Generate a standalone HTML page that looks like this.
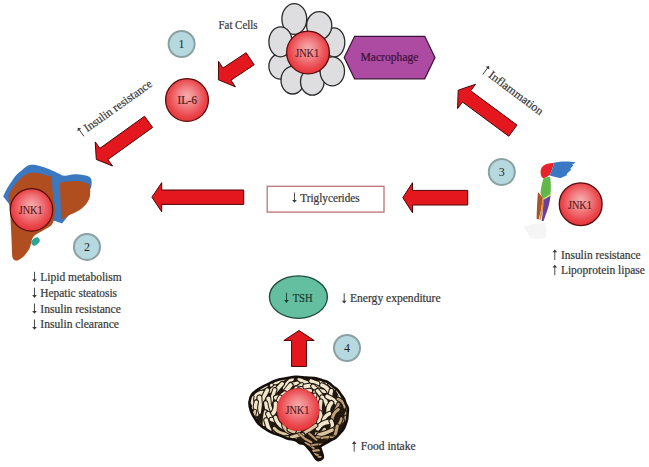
<!DOCTYPE html>
<html><head><meta charset="utf-8"><style>
html,body{margin:0;padding:0;background:#fff;width:649px;height:467px;overflow:hidden}
svg{position:absolute;left:0;top:0;font-family:"Liberation Serif",serif}
</style></head><body>
<svg width="649" height="467" viewBox="0 0 649 467">
<defs>
<radialGradient id="rg" cx="50%" cy="46%" r="54%" fx="50%" fy="40%">
<stop offset="0" stop-color="#f5aeb0"/><stop offset="0.4" stop-color="#f18084"/><stop offset="0.8" stop-color="#ea474c"/><stop offset="1" stop-color="#e4343a"/>
</radialGradient>
</defs>
<ellipse cx="294.3" cy="19" rx="12.4" ry="15.3" transform="rotate(0 294.3 19)" fill="#dedee0" stroke="#2a2a2a" stroke-width="1.3"/>
<ellipse cx="334.3" cy="42.3" rx="10.5" ry="14.5" transform="rotate(0 334.3 42.3)" fill="#dedee0" stroke="#2a2a2a" stroke-width="1.3"/>
<ellipse cx="319.2" cy="25.6" rx="12.6" ry="14" transform="rotate(0 319.2 25.6)" fill="#dedee0" stroke="#2a2a2a" stroke-width="1.3"/>
<ellipse cx="280.5" cy="66.3" rx="11.6" ry="12.8" transform="rotate(0 280.5 66.3)" fill="#dedee0" stroke="#2a2a2a" stroke-width="1.3"/>
<ellipse cx="292.6" cy="80.2" rx="11.6" ry="13.8" transform="rotate(0 292.6 80.2)" fill="#dedee0" stroke="#2a2a2a" stroke-width="1.3"/>
<ellipse cx="312.3" cy="81.8" rx="11.8" ry="13.4" transform="rotate(0 312.3 81.8)" fill="#dedee0" stroke="#2a2a2a" stroke-width="1.3"/>
<ellipse cx="332.3" cy="71.3" rx="12.2" ry="14.5" transform="rotate(0 332.3 71.3)" fill="#dedee0" stroke="#2a2a2a" stroke-width="1.3"/>
<ellipse cx="280.5" cy="41.8" rx="11.6" ry="15" transform="rotate(0 280.5 41.8)" fill="#dedee0" stroke="#2a2a2a" stroke-width="1.3"/>
<circle cx="308" cy="52.5" r="21.4" fill="url(#rg)" stroke="#5a0c0c" stroke-width="1.3"/><text x="295.2" y="56.9" font-size="12.5" fill="#561616" stroke="#561616" stroke-width="0.15" textLength="24" lengthAdjust="spacingAndGlyphs">JNK1</text>
<polygon points="344.2,57.5 354.6,36.3 424.7,36.3 435,57.5 424.7,78.8 354.6,78.8" fill="#ad4aa2" stroke="#3a1436" stroke-width="1.2"/>
<text x="360.5" y="61" font-size="12" fill="#3d1139" stroke="#3d1139" stroke-width="0.22" text-anchor="start" textLength="58" lengthAdjust="spacingAndGlyphs" >Macrophage</text>
<text x="218.5" y="29" font-size="12" fill="#383838" stroke="#383838" stroke-width="0.22" text-anchor="start" textLength="39" lengthAdjust="spacingAndGlyphs" >Fat Cells</text>
<circle cx="181.6" cy="44" r="13" fill="#b5d9df" stroke="#8aa0a3" stroke-width="2"/><text x="181.6" y="48.2" font-size="12" fill="#1f2626" text-anchor="middle">1</text>
<circle cx="187" cy="100" r="21.4" fill="url(#rg)" stroke="#5a0c0c" stroke-width="1.3"/>
<text x="177.6" y="103.7" font-size="11.8" fill="#4a1818" stroke="#4a1818" stroke-width="0.22" text-anchor="start" textLength="19.3" lengthAdjust="spacingAndGlyphs" >IL-6</text>
<polygon points="246.14,52.71 222.98,68.07 218.56,61.40 218.40,79.80 235.41,86.82 230.99,80.15 254.16,64.79" fill="#e5171e" stroke="#4a0606" stroke-width="1.0" stroke-linejoin="miter"/>
<polygon points="144.52,116.25 99.83,148.37 95.19,141.91 96.30,159.40 112.52,166.03 107.88,159.58 152.58,127.45" fill="#e5171e" stroke="#4a0606" stroke-width="1.0" stroke-linejoin="miter"/>
<polygon points="243.70,190.00 161.70,190.00 161.70,182.65 151.90,197.20 161.70,211.75 161.70,204.40 243.70,204.40" fill="#e5171e" stroke="#4a0606" stroke-width="1.0" stroke-linejoin="miter"/>
<polygon points="467.70,190.40 412.50,190.40 412.50,182.70 402.80,197.70 412.50,212.70 412.50,205.00 467.70,205.00" fill="#e5171e" stroke="#4a0606" stroke-width="1.0" stroke-linejoin="miter"/>
<polygon points="517.03,125.06 470.69,90.80 475.54,84.24 458.20,90.20 457.58,108.52 462.43,101.97 508.77,136.24" fill="#e5171e" stroke="#4a0606" stroke-width="1.0" stroke-linejoin="miter"/>
<polygon points="306.45,366.50 306.45,340.50 314.20,340.50 299.00,330.50 283.80,340.50 291.55,340.50 291.55,366.50" fill="#e5171e" stroke="#4a0606" stroke-width="1.0" stroke-linejoin="miter"/>
<g transform="translate(80.4,137.2) rotate(-35.4)"><path d="M3.4,-7.000000000000001 L3.4,1.3" stroke="#383838" stroke-width="0.9"/><path d="M1.1,-6.500000000000001 L3.4,-9.3 L5.699999999999999,-6.500000000000001 Z" fill="#383838"/><text x="8.5" y="0" font-size="11.8" fill="#383838" stroke="#383838" stroke-width="0.22" text-anchor="start" textLength="80.5" lengthAdjust="spacingAndGlyphs" >Insulin resistance</text></g>
<g transform="translate(481,71.5) rotate(36.8)"><path d="M3.2,-7.000000000000001 L3.2,1.3" stroke="#383838" stroke-width="0.9"/><path d="M0.9000000000000004,-6.500000000000001 L3.2,-9.3 L5.5,-6.500000000000001 Z" fill="#383838"/><text x="8.5" y="0" font-size="11.8" fill="#383838" stroke="#383838" stroke-width="0.22" text-anchor="start" textLength="65" lengthAdjust="spacingAndGlyphs" >Inflammation</text></g>
<rect x="267.2" y="186.3" width="116.8" height="25.8" fill="#fff" stroke="#bd7474" stroke-width="1.3"/>
<path d="M294.5,192.6 L294.5,200.5" stroke="#383838" stroke-width="0.9"/><path d="M292.2,200.0 L294.5,202.8 L296.8,200.0 Z" fill="#383838"/><text x="300.3" y="201.5" font-size="11.6" fill="#383838" stroke="#383838" stroke-width="0.22" text-anchor="start" textLength="59.4" lengthAdjust="spacingAndGlyphs" >Triglycerides</text>
<path d="M3.2,196.4 C6,190 9,185 12,181 C15,176 18,172.5 21.4,170.7 C25,167 28,165 31,164.8 C34,164.5 36,165 38,165.5 C42,166.5 46,168 50,169.6 C53,171 55,172 57,172.7 C60,174 62,175.5 64.5,175.7 C68,175.8 71,174.4 75,174.2 C79,174 83,174.5 87,175.7 C89.5,176.5 91.4,178 91.6,181 C91.8,184 91.5,186 91,188 L62,223.5 L10,205 Z" fill="#3b78c0"/>
<path d="M8.6,196.4 C10,191 13,187 16,183.6 C19,179.5 23,176 26.8,174 C29,173 31.5,172.8 34.3,172.8 C38,173 42,174 45,175 C48,175.8 50,176.2 51.7,176.5 C52,181 52.2,185 52.5,190 C53,195 54,200 54.7,205 C55,210 54.8,215 54,220 C53,222.5 52.5,224 51.4,225.3 C48,228 44,230 41,231.7 C38,233 35,234.5 33.4,236.8 C31.5,239.5 31.2,242 30.8,244.6 C30,248 29,250 27,252.3 C25,255 23,257.5 20.6,258.7 C18.5,260 17,261 15.4,260.6 C13.5,260 12.5,258.5 12.2,256 C11.8,251 11.8,246 11.6,240.7 C11.4,236 11.2,232 11,228 C10.7,223 10.6,219 10.3,215 C10,208 8.7,202 8.6,196.4 Z" fill="#b04e20"/>
<path d="M60,182.5 C65,181.5 70,181 75,181 C80,181 84.5,182 88.4,184 C89.5,185 90,186 90,187 C90.3,190 90.4,193 90,196 C89.3,199.5 87.5,202.5 85.4,205 C83,207.5 80.5,209.5 78,211 C75.5,212.5 73,213.5 70.4,214.6 C67.5,216 65,217.5 63,219 L61.5,220.5 C61,214 60.6,207 60.5,200 C60.3,194 60,188 60,182.5 Z" fill="#b04e20"/>
<ellipse cx="35.5" cy="241.5" rx="4.6" ry="3.4" transform="rotate(-40 35.5 241.5)" fill="#2aa597"/>
<circle cx="31.5" cy="209.9" r="21.2" fill="url(#rg)" stroke="#5a0c0c" stroke-width="1.3"/><text x="18.7" y="214.3" font-size="12.5" fill="#561616" stroke="#561616" stroke-width="0.15" textLength="24" lengthAdjust="spacingAndGlyphs">JNK1</text>
<circle cx="87" cy="246.9" r="13" fill="#b5d9df" stroke="#8aa0a3" stroke-width="2"/><text x="87" y="251.1" font-size="12" fill="#1f2626" text-anchor="middle">2</text>
<path d="M34.5,271.79999999999995 L34.5,279.7" stroke="#383838" stroke-width="0.9"/><path d="M32.2,279.2 L34.5,282.0 L36.8,279.2 Z" fill="#383838"/><text x="40.3" y="280.7" font-size="11.6" fill="#383838" stroke="#383838" stroke-width="0.22" text-anchor="start" textLength="81.4" lengthAdjust="spacingAndGlyphs" >Lipid metabolism</text>
<path d="M34.5,287.69999999999993 L34.5,295.59999999999997" stroke="#383838" stroke-width="0.9"/><path d="M32.2,295.09999999999997 L34.5,297.9 L36.8,295.09999999999997 Z" fill="#383838"/><text x="40.3" y="296.59999999999997" font-size="11.6" fill="#383838" stroke="#383838" stroke-width="0.22" text-anchor="start" textLength="76.7" lengthAdjust="spacingAndGlyphs" >Hepatic steatosis</text>
<path d="M34.5,303.59999999999997 L34.5,311.5" stroke="#383838" stroke-width="0.9"/><path d="M32.2,311.0 L34.5,313.8 L36.8,311.0 Z" fill="#383838"/><text x="40.3" y="312.5" font-size="11.6" fill="#383838" stroke="#383838" stroke-width="0.22" text-anchor="start" textLength="80.5" lengthAdjust="spacingAndGlyphs" >Insulin resistance</text>
<path d="M34.5,319.49999999999994 L34.5,327.4" stroke="#383838" stroke-width="0.9"/><path d="M32.2,326.9 L34.5,329.7 L36.8,326.9 Z" fill="#383838"/><text x="40.3" y="328.4" font-size="11.6" fill="#383838" stroke="#383838" stroke-width="0.22" text-anchor="start" textLength="78.7" lengthAdjust="spacingAndGlyphs" >Insulin clearance</text>
<path d="M540.6,171.4 C541,167 544,164.5 547.3,163.7 L554,162.7 C553,166 552,172 549.3,175.2 C547,177 545,178.1 543.5,178.1 C541,177.5 540.6,174 540.6,171.4 Z" fill="#e8222a"/>
<path d="M554,162.7 C559,161.5 566,161.2 570.5,161.7 L575.8,162.2 L572.2,164.8 L573.4,165.6 L570.3,168.6 L571.3,169.6 L566.4,174.3 L567.4,174.9 L560.8,178.1 C558,177.5 553,176.5 549.3,175.2 C552,172 553,166 554,162.7 Z" fill="#3a78c4"/>
<path d="M543.5,178.1 C546,177.5 548,177 550.2,176.7 C551,183 551,190 550.5,194.5 L543.3,199 C542,197 540.4,194 540.6,192 C541,188 542,183 543.5,178.1 Z" fill="#62b64a"/>
<path d="M524,227 C528,224 536,223 545,223.5 C547,227 547,233 546,237.5 C540,239 533,239 530,238 C529,234 526,231 524,227 Z" fill="#f5f5f5"/>
<path d="M538,192 C539.5,194 541.5,196 542.9,198 L540.6,212 L538.6,219.5 L536.6,219 C536.8,210 537.2,200 538,192 Z" fill="#a9532a"/>
<path d="M542.9,198 L544.2,199.2 L542.2,214 L540.5,220 L539.2,219.6 L540.8,212 Z" fill="#e58a2c"/>
<path d="M543.8,199.1 L550.6,195.2 C549.8,203 547.8,210 545.3,216 L543.6,221 L541.6,221 L542.6,214 Z" fill="#6b3f9e"/>
<path d="M543.3,199.3 L550.9,194.6" stroke="#d8e27a" stroke-width="1.3"/>
<circle cx="580.7" cy="204.2" r="21.4" fill="url(#rg)" stroke="#5a0c0c" stroke-width="1.3"/><text x="567.9000000000001" y="208.6" font-size="12.5" fill="#561616" stroke="#561616" stroke-width="0.15" textLength="24" lengthAdjust="spacingAndGlyphs">JNK1</text>
<circle cx="501.8" cy="172" r="13" fill="#b5d9df" stroke="#8aa0a3" stroke-width="2"/><text x="501.8" y="176.2" font-size="12" fill="#1f2626" text-anchor="middle">3</text>
<path d="M554.8,251.7 L554.8,260.0" stroke="#383838" stroke-width="0.9"/><path d="M552.5,252.2 L554.8,249.39999999999998 L557.0999999999999,252.2 Z" fill="#383838"/><text x="560.9" y="258.7" font-size="12" fill="#383838" stroke="#383838" stroke-width="0.22" text-anchor="start" textLength="79.8" lengthAdjust="spacingAndGlyphs" >Insulin resistance</text>
<path d="M554.8,267.09999999999997 L554.8,275.4" stroke="#383838" stroke-width="0.9"/><path d="M552.5,267.59999999999997 L554.8,264.79999999999995 L557.0999999999999,267.59999999999997 Z" fill="#383838"/><text x="560.9" y="274.09999999999997" font-size="12" fill="#383838" stroke="#383838" stroke-width="0.22" text-anchor="start" textLength="84" lengthAdjust="spacingAndGlyphs" >Lipoprotein lipase</text>
<ellipse cx="298.4" cy="297.1" rx="29" ry="21.2" fill="#63bfa0" stroke="#1f4d3d" stroke-width="1.3"/>
<path d="M286.5,292.7 L286.5,300.6" stroke="#173a2f" stroke-width="0.9"/><path d="M284.2,300.1 L286.5,302.90000000000003 L288.8,300.1 Z" fill="#173a2f"/><text x="292.7" y="301.6" font-size="11.8" fill="#173a2f" stroke="#173a2f" stroke-width="0.22" text-anchor="start" textLength="19.9" lengthAdjust="spacingAndGlyphs" >TSH</text>
<path d="M344.2,293.29999999999995 L344.2,301.2" stroke="#383838" stroke-width="0.9"/><path d="M341.9,300.7 L344.2,303.5 L346.5,300.7 Z" fill="#383838"/><text x="350" y="302.2" font-size="11.6" fill="#383838" stroke="#383838" stroke-width="0.22" text-anchor="start" textLength="90.6" lengthAdjust="spacingAndGlyphs" >Energy expenditure</text>
<circle cx="347" cy="348" r="13" fill="#b5d9df" stroke="#8aa0a3" stroke-width="2"/><text x="347" y="352.2" font-size="12" fill="#1f2626" text-anchor="middle">4</text>
<clipPath id="bc"><path d="M249.5,402.0 C249.3,404.8 249.8,407.7 251.0,411.0 C252.2,414.3 255.4,419.3 257.0,421.7 C258.6,424.1 259.3,424.4 260.9,425.7 C262.4,426.9 264.4,428.2 266.3,429.4 C268.2,430.6 270.0,431.8 272.3,432.8 C274.6,433.9 277.6,434.6 280.1,435.5 C282.6,436.4 284.7,437.7 287.2,438.5 C289.8,439.3 293.4,439.4 295.5,440.2 C297.6,441.0 298.2,442.5 299.6,443.1 C301.0,443.7 302.3,442.9 304.0,444.0 C305.7,445.1 307.9,447.7 309.5,449.5 C311.1,451.3 312.2,453.2 313.5,455.0 C314.8,456.8 315.9,459.6 317.5,460.0 C319.1,460.4 322.2,459.2 322.8,457.5 C323.4,455.8 321.4,451.8 321.0,450.0 C320.6,448.2 319.1,448.0 320.5,446.5 C321.9,445.0 326.9,442.7 329.4,441.2 C331.9,439.7 333.8,439.0 335.6,437.6 C337.4,436.2 338.7,434.4 340.0,433.0 C341.3,431.6 342.4,430.5 343.3,429.2 C344.2,427.8 344.7,426.7 345.3,425.0 C345.9,423.3 346.7,421.2 347.1,419.2 C347.4,417.3 347.5,415.3 347.6,413.5 C347.7,411.7 348.1,409.9 347.8,408.2 C347.4,406.5 346.3,405.1 345.6,403.5 C344.9,401.9 344.6,400.0 343.7,398.4 C342.9,396.8 341.6,395.4 340.5,394.0 C339.4,392.6 338.6,391.0 337.3,389.7 C336.1,388.5 334.5,387.7 333.0,386.5 C331.5,385.3 330.1,383.3 328.2,382.3 C326.4,381.2 324.3,380.9 322.0,380.2 C319.7,379.5 316.9,378.4 314.2,378.0 C311.6,377.6 309.0,377.8 306.0,377.6 C303.0,377.4 299.2,376.7 295.9,376.8 C292.7,376.9 289.3,377.8 286.3,378.3 C283.3,378.8 280.7,378.9 278.1,379.7 C275.5,380.4 274.1,381.1 270.9,382.6 C267.7,384.1 262.1,386.8 259.0,388.8 C255.8,390.8 253.6,392.3 252.0,394.5 C250.4,396.7 249.7,399.2 249.5,402.0 Z"/></clipPath>
<path d="M249.5,402.0 C249.3,404.8 249.8,407.7 251.0,411.0 C252.2,414.3 255.4,419.3 257.0,421.7 C258.6,424.1 259.3,424.4 260.9,425.7 C262.4,426.9 264.4,428.2 266.3,429.4 C268.2,430.6 270.0,431.8 272.3,432.8 C274.6,433.9 277.6,434.6 280.1,435.5 C282.6,436.4 284.7,437.7 287.2,438.5 C289.8,439.3 293.4,439.4 295.5,440.2 C297.6,441.0 298.2,442.5 299.6,443.1 C301.0,443.7 302.3,442.9 304.0,444.0 C305.7,445.1 307.9,447.7 309.5,449.5 C311.1,451.3 312.2,453.2 313.5,455.0 C314.8,456.8 315.9,459.6 317.5,460.0 C319.1,460.4 322.2,459.2 322.8,457.5 C323.4,455.8 321.4,451.8 321.0,450.0 C320.6,448.2 319.1,448.0 320.5,446.5 C321.9,445.0 326.9,442.7 329.4,441.2 C331.9,439.7 333.8,439.0 335.6,437.6 C337.4,436.2 338.7,434.4 340.0,433.0 C341.3,431.6 342.4,430.5 343.3,429.2 C344.2,427.8 344.7,426.7 345.3,425.0 C345.9,423.3 346.7,421.2 347.1,419.2 C347.4,417.3 347.5,415.3 347.6,413.5 C347.7,411.7 348.1,409.9 347.8,408.2 C347.4,406.5 346.3,405.1 345.6,403.5 C344.9,401.9 344.6,400.0 343.7,398.4 C342.9,396.8 341.6,395.4 340.5,394.0 C339.4,392.6 338.6,391.0 337.3,389.7 C336.1,388.5 334.5,387.7 333.0,386.5 C331.5,385.3 330.1,383.3 328.2,382.3 C326.4,381.2 324.3,380.9 322.0,380.2 C319.7,379.5 316.9,378.4 314.2,378.0 C311.6,377.6 309.0,377.8 306.0,377.6 C303.0,377.4 299.2,376.7 295.9,376.8 C292.7,376.9 289.3,377.8 286.3,378.3 C283.3,378.8 280.7,378.9 278.1,379.7 C275.5,380.4 274.1,381.1 270.9,382.6 C267.7,384.1 262.1,386.8 259.0,388.8 C255.8,390.8 253.6,392.3 252.0,394.5 C250.4,396.7 249.7,399.2 249.5,402.0 Z" fill="#22180f"/>
<g clip-path="url(#bc)">
<path d="M236.1,372.1 Q243.5,370.7 249.4,365.9" stroke="#22180f" stroke-width="6.2" fill="none" stroke-linecap="round"/>
<path d="M236.1,372.1 Q243.5,370.7 249.4,365.9" stroke="#f0e6cb" stroke-width="4.1" fill="none" stroke-linecap="round"/>
<path d="M240.9,369.2 Q247.8,371.0 253.5,366.6" stroke="#22180f" stroke-width="5.4" fill="none" stroke-linecap="round"/>
<path d="M240.9,369.2 Q247.8,371.0 253.5,366.6" stroke="#f0e6cb" stroke-width="3.3" fill="none" stroke-linecap="round"/>
<path d="M252.5,370.3 Q255.7,363.7 263.1,363.7" stroke="#22180f" stroke-width="5.5" fill="none" stroke-linecap="round"/>
<path d="M252.5,370.3 Q255.7,363.7 263.1,363.7" stroke="#f0e6cb" stroke-width="3.4" fill="none" stroke-linecap="round"/>
<path d="M259.8,370.8 Q265.2,372.0 269.5,368.5" stroke="#22180f" stroke-width="5.4" fill="none" stroke-linecap="round"/>
<path d="M259.8,370.8 Q265.2,372.0 269.5,368.5" stroke="#f0e6cb" stroke-width="3.3" fill="none" stroke-linecap="round"/>
<path d="M270.7,372.4 Q272.8,365.2 278.7,360.6" stroke="#22180f" stroke-width="5.5" fill="none" stroke-linecap="round"/>
<path d="M270.7,372.4 Q272.8,365.2 278.7,360.6" stroke="#f0e6cb" stroke-width="3.4" fill="none" stroke-linecap="round"/>
<path d="M278.4,373.0 Q285.0,369.8 291.4,366.0" stroke="#22180f" stroke-width="6.0" fill="none" stroke-linecap="round"/>
<path d="M278.4,373.0 Q285.0,369.8 291.4,366.0" stroke="#f0e6cb" stroke-width="3.9" fill="none" stroke-linecap="round"/>
<path d="M280.8,369.4 Q288.1,372.9 295.6,370.1" stroke="#22180f" stroke-width="5.6" fill="none" stroke-linecap="round"/>
<path d="M280.8,369.4 Q288.1,372.9 295.6,370.1" stroke="#f0e6cb" stroke-width="3.5" fill="none" stroke-linecap="round"/>
<path d="M292.9,368.7 Q296.5,365.2 301.4,364.7" stroke="#22180f" stroke-width="5.9" fill="none" stroke-linecap="round"/>
<path d="M292.9,368.7 Q296.5,365.2 301.4,364.7" stroke="#f0e6cb" stroke-width="3.8" fill="none" stroke-linecap="round"/>
<path d="M297.6,369.3 Q303.3,371.2 308.4,368.2" stroke="#22180f" stroke-width="5.8" fill="none" stroke-linecap="round"/>
<path d="M297.6,369.3 Q303.3,371.2 308.4,368.2" stroke="#f0e6cb" stroke-width="3.7" fill="none" stroke-linecap="round"/>
<path d="M308.8,365.7 Q311.1,371.3 317.0,370.2" stroke="#22180f" stroke-width="5.3" fill="none" stroke-linecap="round"/>
<path d="M308.8,365.7 Q311.1,371.3 317.0,370.2" stroke="#f0e6cb" stroke-width="3.2" fill="none" stroke-linecap="round"/>
<path d="M316.7,370.3 Q323.4,368.3 330.3,368.4" stroke="#22180f" stroke-width="5.9" fill="none" stroke-linecap="round"/>
<path d="M316.7,370.3 Q323.4,368.3 330.3,368.4" stroke="#f0e6cb" stroke-width="3.8" fill="none" stroke-linecap="round"/>
<path d="M319.7,365.6 Q327.2,363.8 334.4,366.8" stroke="#22180f" stroke-width="6.1" fill="none" stroke-linecap="round"/>
<path d="M319.7,365.6 Q327.2,363.8 334.4,366.8" stroke="#f0e6cb" stroke-width="4.0" fill="none" stroke-linecap="round"/>
<path d="M335.7,367.2 Q340.5,369.9 345.5,372.4" stroke="#22180f" stroke-width="6.1" fill="none" stroke-linecap="round"/>
<path d="M335.7,367.2 Q340.5,369.9 345.5,372.4" stroke="#f0e6cb" stroke-width="4.0" fill="none" stroke-linecap="round"/>
<path d="M340.1,362.8 Q346.9,367.2 347.2,375.1" stroke="#22180f" stroke-width="6.2" fill="none" stroke-linecap="round"/>
<path d="M340.1,362.8 Q346.9,367.2 347.2,375.1" stroke="#f0e6cb" stroke-width="4.1" fill="none" stroke-linecap="round"/>
<path d="M347.0,361.7 Q352.5,366.6 356.1,373.0" stroke="#22180f" stroke-width="6.2" fill="none" stroke-linecap="round"/>
<path d="M347.0,361.7 Q352.5,366.6 356.1,373.0" stroke="#f0e6cb" stroke-width="4.1" fill="none" stroke-linecap="round"/>
<path d="M243.7,378.6 Q243.4,372.6 248.8,369.9" stroke="#22180f" stroke-width="5.4" fill="none" stroke-linecap="round"/>
<path d="M243.7,378.6 Q243.4,372.6 248.8,369.9" stroke="#f0e6cb" stroke-width="3.3" fill="none" stroke-linecap="round"/>
<path d="M253.4,381.3 Q258.7,378.5 256.9,372.7" stroke="#22180f" stroke-width="5.8" fill="none" stroke-linecap="round"/>
<path d="M253.4,381.3 Q258.7,378.5 256.9,372.7" stroke="#f0e6cb" stroke-width="3.7" fill="none" stroke-linecap="round"/>
<path d="M255.4,377.5 Q261.3,373.6 267.4,370.4" stroke="#22180f" stroke-width="5.7" fill="none" stroke-linecap="round"/>
<path d="M255.4,377.5 Q261.3,373.6 267.4,370.4" stroke="#f0e6cb" stroke-width="3.6" fill="none" stroke-linecap="round"/>
<path d="M265.0,382.2 Q269.8,377.7 269.7,371.2" stroke="#22180f" stroke-width="5.4" fill="none" stroke-linecap="round"/>
<path d="M265.0,382.2 Q269.8,377.7 269.7,371.2" stroke="#f0e6cb" stroke-width="3.3" fill="none" stroke-linecap="round"/>
<path d="M272.7,378.4 Q278.6,373.7 286.1,375.2" stroke="#22180f" stroke-width="5.7" fill="none" stroke-linecap="round"/>
<path d="M272.7,378.4 Q278.6,373.7 286.1,375.2" stroke="#f0e6cb" stroke-width="3.6" fill="none" stroke-linecap="round"/>
<path d="M278.9,379.4 Q286.0,379.8 288.9,373.3" stroke="#22180f" stroke-width="6.2" fill="none" stroke-linecap="round"/>
<path d="M278.9,379.4 Q286.0,379.8 288.9,373.3" stroke="#f0e6cb" stroke-width="4.1" fill="none" stroke-linecap="round"/>
<path d="M290.2,375.1 Q296.8,374.6 303.5,374.6" stroke="#22180f" stroke-width="5.6" fill="none" stroke-linecap="round"/>
<path d="M290.2,375.1 Q296.8,374.6 303.5,374.6" stroke="#f0e6cb" stroke-width="3.5" fill="none" stroke-linecap="round"/>
<path d="M294.0,374.2 Q301.7,377.3 308.9,373.0" stroke="#22180f" stroke-width="5.9" fill="none" stroke-linecap="round"/>
<path d="M294.0,374.2 Q301.7,377.3 308.9,373.0" stroke="#f0e6cb" stroke-width="3.8" fill="none" stroke-linecap="round"/>
<path d="M304.8,375.6 Q310.5,376.5 315.2,373.1" stroke="#22180f" stroke-width="6.2" fill="none" stroke-linecap="round"/>
<path d="M304.8,375.6 Q310.5,376.5 315.2,373.1" stroke="#f0e6cb" stroke-width="4.1" fill="none" stroke-linecap="round"/>
<path d="M312.3,371.7 Q316.3,377.1 322.1,380.5" stroke="#22180f" stroke-width="6.1" fill="none" stroke-linecap="round"/>
<path d="M312.3,371.7 Q316.3,377.1 322.1,380.5" stroke="#f0e6cb" stroke-width="4.0" fill="none" stroke-linecap="round"/>
<path d="M319.4,374.2 Q324.6,377.9 330.9,377.4" stroke="#22180f" stroke-width="6.0" fill="none" stroke-linecap="round"/>
<path d="M319.4,374.2 Q324.6,377.9 330.9,377.4" stroke="#f0e6cb" stroke-width="3.9" fill="none" stroke-linecap="round"/>
<path d="M328.6,372.1 Q335.7,374.2 336.9,381.5" stroke="#22180f" stroke-width="5.8" fill="none" stroke-linecap="round"/>
<path d="M328.6,372.1 Q335.7,374.2 336.9,381.5" stroke="#f0e6cb" stroke-width="3.7" fill="none" stroke-linecap="round"/>
<path d="M335.2,371.2 Q339.7,376.6 345.8,380.2" stroke="#22180f" stroke-width="6.1" fill="none" stroke-linecap="round"/>
<path d="M335.2,371.2 Q339.7,376.6 345.8,380.2" stroke="#f0e6cb" stroke-width="4.0" fill="none" stroke-linecap="round"/>
<path d="M346.1,369.3 Q350.2,375.1 352.1,381.9" stroke="#22180f" stroke-width="6.1" fill="none" stroke-linecap="round"/>
<path d="M346.1,369.3 Q350.2,375.1 352.1,381.9" stroke="#f0e6cb" stroke-width="4.0" fill="none" stroke-linecap="round"/>
<path d="M359.8,368.4 Q360.1,375.8 360.7,383.1" stroke="#22180f" stroke-width="5.8" fill="none" stroke-linecap="round"/>
<path d="M359.8,368.4 Q360.1,375.8 360.7,383.1" stroke="#f0e6cb" stroke-width="3.7" fill="none" stroke-linecap="round"/>
<path d="M234.8,386.2 Q240.7,384.7 245.2,380.5" stroke="#22180f" stroke-width="6.0" fill="none" stroke-linecap="round"/>
<path d="M234.8,386.2 Q240.7,384.7 245.2,380.5" stroke="#f0e6cb" stroke-width="3.9" fill="none" stroke-linecap="round"/>
<path d="M246.0,383.9 Q252.1,381.8 256.7,377.5" stroke="#22180f" stroke-width="5.7" fill="none" stroke-linecap="round"/>
<path d="M246.0,383.9 Q252.1,381.8 256.7,377.5" stroke="#f0e6cb" stroke-width="3.6" fill="none" stroke-linecap="round"/>
<path d="M253.5,387.2 Q256.4,380.1 264.0,379.0" stroke="#22180f" stroke-width="5.5" fill="none" stroke-linecap="round"/>
<path d="M253.5,387.2 Q256.4,380.1 264.0,379.0" stroke="#f0e6cb" stroke-width="3.4" fill="none" stroke-linecap="round"/>
<path d="M262.5,388.3 Q266.6,383.1 268.8,376.9" stroke="#22180f" stroke-width="5.3" fill="none" stroke-linecap="round"/>
<path d="M262.5,388.3 Q266.6,383.1 268.8,376.9" stroke="#f0e6cb" stroke-width="3.2" fill="none" stroke-linecap="round"/>
<path d="M271.6,385.3 Q272.5,380.2 276.1,376.6" stroke="#22180f" stroke-width="5.5" fill="none" stroke-linecap="round"/>
<path d="M271.6,385.3 Q272.5,380.2 276.1,376.6" stroke="#f0e6cb" stroke-width="3.4" fill="none" stroke-linecap="round"/>
<path d="M275.1,382.7 Q280.6,380.9 285.2,377.6" stroke="#22180f" stroke-width="5.9" fill="none" stroke-linecap="round"/>
<path d="M275.1,382.7 Q280.6,380.9 285.2,377.6" stroke="#f0e6cb" stroke-width="3.8" fill="none" stroke-linecap="round"/>
<path d="M284.7,388.0 Q287.1,382.5 292.1,379.3" stroke="#22180f" stroke-width="5.7" fill="none" stroke-linecap="round"/>
<path d="M284.7,388.0 Q287.1,382.5 292.1,379.3" stroke="#f0e6cb" stroke-width="3.6" fill="none" stroke-linecap="round"/>
<path d="M291.2,384.3 Q295.9,384.2 300.2,382.3" stroke="#22180f" stroke-width="5.4" fill="none" stroke-linecap="round"/>
<path d="M291.2,384.3 Q295.9,384.2 300.2,382.3" stroke="#f0e6cb" stroke-width="3.3" fill="none" stroke-linecap="round"/>
<path d="M299.2,379.1 Q305.5,383.8 313.3,383.6" stroke="#22180f" stroke-width="5.7" fill="none" stroke-linecap="round"/>
<path d="M299.2,379.1 Q305.5,383.8 313.3,383.6" stroke="#f0e6cb" stroke-width="3.6" fill="none" stroke-linecap="round"/>
<path d="M311.2,381.1 Q315.7,383.3 320.6,384.0" stroke="#22180f" stroke-width="5.9" fill="none" stroke-linecap="round"/>
<path d="M311.2,381.1 Q315.7,383.3 320.6,384.0" stroke="#f0e6cb" stroke-width="3.8" fill="none" stroke-linecap="round"/>
<path d="M320.8,379.9 Q322.5,386.1 328.7,387.8" stroke="#22180f" stroke-width="5.3" fill="none" stroke-linecap="round"/>
<path d="M320.8,379.9 Q322.5,386.1 328.7,387.8" stroke="#f0e6cb" stroke-width="3.2" fill="none" stroke-linecap="round"/>
<path d="M324.3,378.7 Q326.9,383.0 331.0,385.8" stroke="#22180f" stroke-width="6.2" fill="none" stroke-linecap="round"/>
<path d="M324.3,378.7 Q326.9,383.0 331.0,385.8" stroke="#f0e6cb" stroke-width="4.1" fill="none" stroke-linecap="round"/>
<path d="M332.5,379.3 Q335.5,385.1 342.0,384.2" stroke="#22180f" stroke-width="5.7" fill="none" stroke-linecap="round"/>
<path d="M332.5,379.3 Q335.5,385.1 342.0,384.2" stroke="#f0e6cb" stroke-width="3.6" fill="none" stroke-linecap="round"/>
<path d="M346.3,379.0 Q345.4,385.5 351.3,388.3" stroke="#22180f" stroke-width="5.8" fill="none" stroke-linecap="round"/>
<path d="M346.3,379.0 Q345.4,385.5 351.3,388.3" stroke="#f0e6cb" stroke-width="3.7" fill="none" stroke-linecap="round"/>
<path d="M353.4,375.3 Q355.2,381.2 353.6,387.3" stroke="#22180f" stroke-width="5.8" fill="none" stroke-linecap="round"/>
<path d="M353.4,375.3 Q355.2,381.2 353.6,387.3" stroke="#f0e6cb" stroke-width="3.7" fill="none" stroke-linecap="round"/>
<path d="M241.6,394.4 Q245.8,390.4 245.8,384.5" stroke="#22180f" stroke-width="6.1" fill="none" stroke-linecap="round"/>
<path d="M241.6,394.4 Q245.8,390.4 245.8,384.5" stroke="#f0e6cb" stroke-width="4.0" fill="none" stroke-linecap="round"/>
<path d="M249.2,396.2 Q253.3,389.7 253.0,382.1" stroke="#22180f" stroke-width="5.5" fill="none" stroke-linecap="round"/>
<path d="M249.2,396.2 Q253.3,389.7 253.0,382.1" stroke="#f0e6cb" stroke-width="3.4" fill="none" stroke-linecap="round"/>
<path d="M255.5,389.3 Q260.9,388.4 265.7,386.0" stroke="#22180f" stroke-width="5.8" fill="none" stroke-linecap="round"/>
<path d="M255.5,389.3 Q260.9,388.4 265.7,386.0" stroke="#f0e6cb" stroke-width="3.7" fill="none" stroke-linecap="round"/>
<path d="M266.6,391.7 Q271.8,391.3 275.2,387.1" stroke="#22180f" stroke-width="5.6" fill="none" stroke-linecap="round"/>
<path d="M266.6,391.7 Q271.8,391.3 275.2,387.1" stroke="#f0e6cb" stroke-width="3.5" fill="none" stroke-linecap="round"/>
<path d="M274.2,392.9 Q278.0,388.2 282.2,383.8" stroke="#22180f" stroke-width="5.7" fill="none" stroke-linecap="round"/>
<path d="M274.2,392.9 Q278.0,388.2 282.2,383.8" stroke="#f0e6cb" stroke-width="3.6" fill="none" stroke-linecap="round"/>
<path d="M284.3,393.6 Q287.2,389.1 290.6,385.2" stroke="#22180f" stroke-width="6.2" fill="none" stroke-linecap="round"/>
<path d="M284.3,393.6 Q287.2,389.1 290.6,385.2" stroke="#f0e6cb" stroke-width="4.1" fill="none" stroke-linecap="round"/>
<path d="M290.9,393.3 Q296.0,388.7 301.8,385.1" stroke="#22180f" stroke-width="5.9" fill="none" stroke-linecap="round"/>
<path d="M290.9,393.3 Q296.0,388.7 301.8,385.1" stroke="#f0e6cb" stroke-width="3.8" fill="none" stroke-linecap="round"/>
<path d="M296.1,388.3 Q303.4,388.6 310.4,390.7" stroke="#22180f" stroke-width="5.7" fill="none" stroke-linecap="round"/>
<path d="M296.1,388.3 Q303.4,388.6 310.4,390.7" stroke="#f0e6cb" stroke-width="3.6" fill="none" stroke-linecap="round"/>
<path d="M305.3,386.4 Q312.8,384.4 319.0,389.2" stroke="#22180f" stroke-width="6.1" fill="none" stroke-linecap="round"/>
<path d="M305.3,386.4 Q312.8,384.4 319.0,389.2" stroke="#f0e6cb" stroke-width="4.0" fill="none" stroke-linecap="round"/>
<path d="M312.8,386.2 Q317.9,391.8 325.5,391.3" stroke="#22180f" stroke-width="5.4" fill="none" stroke-linecap="round"/>
<path d="M312.8,386.2 Q317.9,391.8 325.5,391.3" stroke="#f0e6cb" stroke-width="3.3" fill="none" stroke-linecap="round"/>
<path d="M322.0,385.3 Q327.8,387.2 329.8,393.1" stroke="#22180f" stroke-width="5.9" fill="none" stroke-linecap="round"/>
<path d="M322.0,385.3 Q327.8,387.2 329.8,393.1" stroke="#f0e6cb" stroke-width="3.8" fill="none" stroke-linecap="round"/>
<path d="M330.0,383.5 Q334.6,389.2 341.7,391.0" stroke="#22180f" stroke-width="6.0" fill="none" stroke-linecap="round"/>
<path d="M330.0,383.5 Q334.6,389.2 341.7,391.0" stroke="#f0e6cb" stroke-width="3.9" fill="none" stroke-linecap="round"/>
<path d="M339.1,382.4 Q337.5,389.9 339.2,397.4" stroke="#22180f" stroke-width="5.3" fill="none" stroke-linecap="round"/>
<path d="M339.1,382.4 Q337.5,389.9 339.2,397.4" stroke="#f0e6cb" stroke-width="3.2" fill="none" stroke-linecap="round"/>
<path d="M349.7,380.9 Q350.4,388.4 354.4,394.8" stroke="#22180f" stroke-width="5.4" fill="none" stroke-linecap="round"/>
<path d="M349.7,380.9 Q350.4,388.4 354.4,394.8" stroke="#f0e6cb" stroke-width="3.3" fill="none" stroke-linecap="round"/>
<path d="M352.1,386.4 Q357.2,390.2 361.4,394.9" stroke="#22180f" stroke-width="5.5" fill="none" stroke-linecap="round"/>
<path d="M352.1,386.4 Q357.2,390.2 361.4,394.9" stroke="#f0e6cb" stroke-width="3.4" fill="none" stroke-linecap="round"/>
<path d="M243.3,399.8 Q239.3,394.5 242.1,388.6" stroke="#22180f" stroke-width="5.4" fill="none" stroke-linecap="round"/>
<path d="M243.3,399.8 Q239.3,394.5 242.1,388.6" stroke="#f0e6cb" stroke-width="3.3" fill="none" stroke-linecap="round"/>
<path d="M246.9,400.4 Q250.1,396.6 254.0,393.6" stroke="#22180f" stroke-width="5.6" fill="none" stroke-linecap="round"/>
<path d="M246.9,400.4 Q250.1,396.6 254.0,393.6" stroke="#f0e6cb" stroke-width="3.5" fill="none" stroke-linecap="round"/>
<path d="M254.0,399.1 Q256.6,393.0 263.2,392.8" stroke="#22180f" stroke-width="6.0" fill="none" stroke-linecap="round"/>
<path d="M254.0,399.1 Q256.6,393.0 263.2,392.8" stroke="#f0e6cb" stroke-width="3.9" fill="none" stroke-linecap="round"/>
<path d="M260.5,402.9 Q264.3,396.7 267.3,390.2" stroke="#22180f" stroke-width="5.9" fill="none" stroke-linecap="round"/>
<path d="M260.5,402.9 Q264.3,396.7 267.3,390.2" stroke="#f0e6cb" stroke-width="3.8" fill="none" stroke-linecap="round"/>
<path d="M270.4,402.6 Q272.7,396.3 274.8,389.8" stroke="#22180f" stroke-width="5.4" fill="none" stroke-linecap="round"/>
<path d="M270.4,402.6 Q272.7,396.3 274.8,389.8" stroke="#f0e6cb" stroke-width="3.3" fill="none" stroke-linecap="round"/>
<path d="M275.9,397.7 Q281.2,397.0 284.9,393.3" stroke="#22180f" stroke-width="6.0" fill="none" stroke-linecap="round"/>
<path d="M275.9,397.7 Q281.2,397.0 284.9,393.3" stroke="#f0e6cb" stroke-width="3.9" fill="none" stroke-linecap="round"/>
<path d="M285.0,400.8 Q288.2,397.1 290.0,392.5" stroke="#22180f" stroke-width="5.5" fill="none" stroke-linecap="round"/>
<path d="M285.0,400.8 Q288.2,397.1 290.0,392.5" stroke="#f0e6cb" stroke-width="3.4" fill="none" stroke-linecap="round"/>
<path d="M293.4,396.6 Q299.9,392.2 307.1,395.3" stroke="#22180f" stroke-width="6.0" fill="none" stroke-linecap="round"/>
<path d="M293.4,396.6 Q299.9,392.2 307.1,395.3" stroke="#f0e6cb" stroke-width="3.9" fill="none" stroke-linecap="round"/>
<path d="M298.7,389.9 Q304.9,393.1 307.9,399.3" stroke="#22180f" stroke-width="5.4" fill="none" stroke-linecap="round"/>
<path d="M298.7,389.9 Q304.9,393.1 307.9,399.3" stroke="#f0e6cb" stroke-width="3.3" fill="none" stroke-linecap="round"/>
<path d="M315.0,392.1 Q315.9,397.0 318.6,401.2" stroke="#22180f" stroke-width="5.7" fill="none" stroke-linecap="round"/>
<path d="M315.0,392.1 Q315.9,397.0 318.6,401.2" stroke="#f0e6cb" stroke-width="3.6" fill="none" stroke-linecap="round"/>
<path d="M317.4,390.7 Q321.2,394.8 323.5,400.0" stroke="#22180f" stroke-width="5.4" fill="none" stroke-linecap="round"/>
<path d="M317.4,390.7 Q321.2,394.8 323.5,400.0" stroke="#f0e6cb" stroke-width="3.3" fill="none" stroke-linecap="round"/>
<path d="M331.3,390.8 Q329.2,396.9 332.7,402.4" stroke="#22180f" stroke-width="5.8" fill="none" stroke-linecap="round"/>
<path d="M331.3,390.8 Q329.2,396.9 332.7,402.4" stroke="#f0e6cb" stroke-width="3.7" fill="none" stroke-linecap="round"/>
<path d="M337.8,390.7 Q341.8,395.9 339.3,401.9" stroke="#22180f" stroke-width="5.3" fill="none" stroke-linecap="round"/>
<path d="M337.8,390.7 Q341.8,395.9 339.3,401.9" stroke="#f0e6cb" stroke-width="3.2" fill="none" stroke-linecap="round"/>
<path d="M344.4,388.2 Q342.1,394.1 344.0,400.1" stroke="#22180f" stroke-width="5.3" fill="none" stroke-linecap="round"/>
<path d="M344.4,388.2 Q342.1,394.1 344.0,400.1" stroke="#f0e6cb" stroke-width="3.2" fill="none" stroke-linecap="round"/>
<path d="M353.0,391.8 Q354.1,397.5 354.7,403.3" stroke="#22180f" stroke-width="5.4" fill="none" stroke-linecap="round"/>
<path d="M353.0,391.8 Q354.1,397.5 354.7,403.3" stroke="#f0e6cb" stroke-width="3.3" fill="none" stroke-linecap="round"/>
<path d="M243.6,407.3 Q247.0,401.8 244.2,396.0" stroke="#22180f" stroke-width="5.5" fill="none" stroke-linecap="round"/>
<path d="M243.6,407.3 Q247.0,401.8 244.2,396.0" stroke="#f0e6cb" stroke-width="3.4" fill="none" stroke-linecap="round"/>
<path d="M253.5,407.4 Q250.4,402.5 251.6,396.8" stroke="#22180f" stroke-width="5.8" fill="none" stroke-linecap="round"/>
<path d="M253.5,407.4 Q250.4,402.5 251.6,396.8" stroke="#f0e6cb" stroke-width="3.7" fill="none" stroke-linecap="round"/>
<path d="M259.0,412.0 Q260.7,404.7 259.4,397.4" stroke="#22180f" stroke-width="6.0" fill="none" stroke-linecap="round"/>
<path d="M259.0,412.0 Q260.7,404.7 259.4,397.4" stroke="#f0e6cb" stroke-width="3.9" fill="none" stroke-linecap="round"/>
<path d="M271.2,411.1 Q268.2,405.1 268.4,398.4" stroke="#22180f" stroke-width="6.0" fill="none" stroke-linecap="round"/>
<path d="M271.2,411.1 Q268.2,405.1 268.4,398.4" stroke="#f0e6cb" stroke-width="3.9" fill="none" stroke-linecap="round"/>
<path d="M278.6,406.2 Q277.3,401.3 280.2,397.2" stroke="#22180f" stroke-width="5.4" fill="none" stroke-linecap="round"/>
<path d="M278.6,406.2 Q277.3,401.3 280.2,397.2" stroke="#f0e6cb" stroke-width="3.3" fill="none" stroke-linecap="round"/>
<path d="M283.6,410.0 Q285.2,404.8 287.2,399.8" stroke="#22180f" stroke-width="5.6" fill="none" stroke-linecap="round"/>
<path d="M283.6,410.0 Q285.2,404.8 287.2,399.8" stroke="#f0e6cb" stroke-width="3.5" fill="none" stroke-linecap="round"/>
<path d="M291.4,407.3 Q296.3,404.9 299.3,400.5" stroke="#22180f" stroke-width="6.2" fill="none" stroke-linecap="round"/>
<path d="M291.4,407.3 Q296.3,404.9 299.3,400.5" stroke="#f0e6cb" stroke-width="4.1" fill="none" stroke-linecap="round"/>
<path d="M300.6,398.8 Q305.9,400.9 305.2,406.6" stroke="#22180f" stroke-width="6.1" fill="none" stroke-linecap="round"/>
<path d="M300.6,398.8 Q305.9,400.9 305.2,406.6" stroke="#f0e6cb" stroke-width="4.0" fill="none" stroke-linecap="round"/>
<path d="M304.4,395.7 Q309.3,401.3 314.5,406.7" stroke="#22180f" stroke-width="5.7" fill="none" stroke-linecap="round"/>
<path d="M304.4,395.7 Q309.3,401.3 314.5,406.7" stroke="#f0e6cb" stroke-width="3.6" fill="none" stroke-linecap="round"/>
<path d="M314.9,395.3 Q312.1,401.7 316.2,407.2" stroke="#22180f" stroke-width="5.4" fill="none" stroke-linecap="round"/>
<path d="M314.9,395.3 Q312.1,401.7 316.2,407.2" stroke="#f0e6cb" stroke-width="3.3" fill="none" stroke-linecap="round"/>
<path d="M322.1,397.2 Q326.1,400.2 326.9,405.2" stroke="#22180f" stroke-width="5.7" fill="none" stroke-linecap="round"/>
<path d="M322.1,397.2 Q326.1,400.2 326.9,405.2" stroke="#f0e6cb" stroke-width="3.6" fill="none" stroke-linecap="round"/>
<path d="M327.1,396.5 Q334.5,399.2 338.5,405.9" stroke="#22180f" stroke-width="5.8" fill="none" stroke-linecap="round"/>
<path d="M327.1,396.5 Q334.5,399.2 338.5,405.9" stroke="#f0e6cb" stroke-width="3.7" fill="none" stroke-linecap="round"/>
<path d="M337.9,399.0 Q343.8,401.1 344.9,407.3" stroke="#22180f" stroke-width="4.7" fill="none" stroke-linecap="round"/>
<path d="M337.9,399.0 Q343.8,401.1 344.9,407.3" stroke="#c0a078" stroke-width="2.6" fill="none" stroke-linecap="round"/>
<path d="M353.9,398.4 Q356.3,404.4 351.2,408.4" stroke="#22180f" stroke-width="4.7" fill="none" stroke-linecap="round"/>
<path d="M353.9,398.4 Q356.3,404.4 351.2,408.4" stroke="#c0a078" stroke-width="2.6" fill="none" stroke-linecap="round"/>
<path d="M356.1,397.2 Q356.2,403.8 359.8,409.4" stroke="#22180f" stroke-width="5.0" fill="none" stroke-linecap="round"/>
<path d="M356.1,397.2 Q356.2,403.8 359.8,409.4" stroke="#c0a078" stroke-width="2.9" fill="none" stroke-linecap="round"/>
<path d="M238.8,414.6 Q238.0,408.6 242.8,405.0" stroke="#22180f" stroke-width="5.6" fill="none" stroke-linecap="round"/>
<path d="M238.8,414.6 Q238.0,408.6 242.8,405.0" stroke="#f0e6cb" stroke-width="3.5" fill="none" stroke-linecap="round"/>
<path d="M245.6,416.2 Q244.7,410.1 249.4,406.0" stroke="#22180f" stroke-width="5.4" fill="none" stroke-linecap="round"/>
<path d="M245.6,416.2 Q244.7,410.1 249.4,406.0" stroke="#f0e6cb" stroke-width="3.3" fill="none" stroke-linecap="round"/>
<path d="M256.7,414.6 Q254.4,408.4 256.3,402.1" stroke="#22180f" stroke-width="5.4" fill="none" stroke-linecap="round"/>
<path d="M256.7,414.6 Q254.4,408.4 256.3,402.1" stroke="#f0e6cb" stroke-width="3.3" fill="none" stroke-linecap="round"/>
<path d="M268.7,413.3 Q266.2,408.5 265.7,403.0" stroke="#22180f" stroke-width="5.4" fill="none" stroke-linecap="round"/>
<path d="M268.7,413.3 Q266.2,408.5 265.7,403.0" stroke="#f0e6cb" stroke-width="3.3" fill="none" stroke-linecap="round"/>
<path d="M271.4,415.1 Q276.5,410.3 275.6,403.4" stroke="#22180f" stroke-width="6.0" fill="none" stroke-linecap="round"/>
<path d="M271.4,415.1 Q276.5,410.3 275.6,403.4" stroke="#f0e6cb" stroke-width="3.9" fill="none" stroke-linecap="round"/>
<path d="M284.2,417.2 Q284.8,410.2 282.9,403.4" stroke="#22180f" stroke-width="6.3" fill="none" stroke-linecap="round"/>
<path d="M284.2,417.2 Q284.8,410.2 282.9,403.4" stroke="#f0e6cb" stroke-width="4.2" fill="none" stroke-linecap="round"/>
<path d="M294.3,417.1 Q290.5,411.2 288.4,404.5" stroke="#22180f" stroke-width="5.4" fill="none" stroke-linecap="round"/>
<path d="M294.3,417.1 Q290.5,411.2 288.4,404.5" stroke="#f0e6cb" stroke-width="3.3" fill="none" stroke-linecap="round"/>
<path d="M293.4,414.9 Q293.8,408.2 297.4,402.5" stroke="#22180f" stroke-width="5.4" fill="none" stroke-linecap="round"/>
<path d="M293.4,414.9 Q293.8,408.2 297.4,402.5" stroke="#f0e6cb" stroke-width="3.3" fill="none" stroke-linecap="round"/>
<path d="M305.2,406.2 Q310.1,408.7 310.0,414.2" stroke="#22180f" stroke-width="5.7" fill="none" stroke-linecap="round"/>
<path d="M305.2,406.2 Q310.1,408.7 310.0,414.2" stroke="#f0e6cb" stroke-width="3.6" fill="none" stroke-linecap="round"/>
<path d="M317.5,406.8 Q316.7,411.9 314.8,416.8" stroke="#22180f" stroke-width="5.7" fill="none" stroke-linecap="round"/>
<path d="M317.5,406.8 Q316.7,411.9 314.8,416.8" stroke="#f0e6cb" stroke-width="3.6" fill="none" stroke-linecap="round"/>
<path d="M320.9,401.1 Q319.2,408.1 321.1,415.0" stroke="#22180f" stroke-width="5.4" fill="none" stroke-linecap="round"/>
<path d="M320.9,401.1 Q319.2,408.1 321.1,415.0" stroke="#f0e6cb" stroke-width="3.3" fill="none" stroke-linecap="round"/>
<path d="M331.3,403.0 Q326.7,408.0 329.0,414.4" stroke="#22180f" stroke-width="6.1" fill="none" stroke-linecap="round"/>
<path d="M331.3,403.0 Q326.7,408.0 329.0,414.4" stroke="#f0e6cb" stroke-width="4.0" fill="none" stroke-linecap="round"/>
<path d="M338.4,404.0 Q336.2,409.5 333.0,414.5" stroke="#22180f" stroke-width="4.7" fill="none" stroke-linecap="round"/>
<path d="M338.4,404.0 Q336.2,409.5 333.0,414.5" stroke="#c0a078" stroke-width="2.6" fill="none" stroke-linecap="round"/>
<path d="M348.2,404.4 Q346.8,411.7 347.0,419.1" stroke="#22180f" stroke-width="4.4" fill="none" stroke-linecap="round"/>
<path d="M348.2,404.4 Q346.8,411.7 347.0,419.1" stroke="#c0a078" stroke-width="2.3" fill="none" stroke-linecap="round"/>
<path d="M352.0,403.3 Q359.1,407.7 359.7,416.0" stroke="#22180f" stroke-width="4.8" fill="none" stroke-linecap="round"/>
<path d="M352.0,403.3 Q359.1,407.7 359.7,416.0" stroke="#c0a078" stroke-width="2.7" fill="none" stroke-linecap="round"/>
<path d="M247.6,423.4 Q244.2,419.1 244.2,413.7" stroke="#22180f" stroke-width="4.9" fill="none" stroke-linecap="round"/>
<path d="M247.6,423.4 Q244.2,419.1 244.2,413.7" stroke="#d9c49f" stroke-width="2.8" fill="none" stroke-linecap="round"/>
<path d="M253.8,421.6 Q253.2,416.3 254.9,411.2" stroke="#22180f" stroke-width="4.9" fill="none" stroke-linecap="round"/>
<path d="M253.8,421.6 Q253.2,416.3 254.9,411.2" stroke="#d9c49f" stroke-width="2.8" fill="none" stroke-linecap="round"/>
<path d="M264.3,424.7 Q264.1,418.3 265.5,412.0" stroke="#22180f" stroke-width="5.4" fill="none" stroke-linecap="round"/>
<path d="M264.3,424.7 Q264.1,418.3 265.5,412.0" stroke="#f0e6cb" stroke-width="3.3" fill="none" stroke-linecap="round"/>
<path d="M275.9,420.1 Q270.0,419.5 268.1,413.8" stroke="#22180f" stroke-width="6.0" fill="none" stroke-linecap="round"/>
<path d="M275.9,420.1 Q270.0,419.5 268.1,413.8" stroke="#f0e6cb" stroke-width="3.9" fill="none" stroke-linecap="round"/>
<path d="M280.7,421.3 Q281.9,415.7 280.1,410.3" stroke="#22180f" stroke-width="6.2" fill="none" stroke-linecap="round"/>
<path d="M280.7,421.3 Q281.9,415.7 280.1,410.3" stroke="#f0e6cb" stroke-width="4.1" fill="none" stroke-linecap="round"/>
<path d="M290.3,420.9 Q286.8,418.1 283.1,415.5" stroke="#22180f" stroke-width="5.9" fill="none" stroke-linecap="round"/>
<path d="M290.3,420.9 Q286.8,418.1 283.1,415.5" stroke="#f0e6cb" stroke-width="3.8" fill="none" stroke-linecap="round"/>
<path d="M296.4,418.2 Q291.6,418.0 287.8,414.9" stroke="#22180f" stroke-width="5.7" fill="none" stroke-linecap="round"/>
<path d="M296.4,418.2 Q291.6,418.0 287.8,414.9" stroke="#f0e6cb" stroke-width="3.6" fill="none" stroke-linecap="round"/>
<path d="M308.5,414.4 Q300.7,415.6 295.2,421.2" stroke="#22180f" stroke-width="6.2" fill="none" stroke-linecap="round"/>
<path d="M308.5,414.4 Q300.7,415.6 295.2,421.2" stroke="#f0e6cb" stroke-width="4.1" fill="none" stroke-linecap="round"/>
<path d="M315.6,412.4 Q312.0,418.4 306.7,422.9" stroke="#22180f" stroke-width="5.9" fill="none" stroke-linecap="round"/>
<path d="M315.6,412.4 Q312.0,418.4 306.7,422.9" stroke="#f0e6cb" stroke-width="3.8" fill="none" stroke-linecap="round"/>
<path d="M319.8,412.4 Q322.3,417.6 318.3,421.8" stroke="#22180f" stroke-width="5.7" fill="none" stroke-linecap="round"/>
<path d="M319.8,412.4 Q322.3,417.6 318.3,421.8" stroke="#f0e6cb" stroke-width="3.6" fill="none" stroke-linecap="round"/>
<path d="M329.6,413.6 Q323.7,416.1 323.3,422.5" stroke="#22180f" stroke-width="5.6" fill="none" stroke-linecap="round"/>
<path d="M329.6,413.6 Q323.7,416.1 323.3,422.5" stroke="#f0e6cb" stroke-width="3.5" fill="none" stroke-linecap="round"/>
<path d="M338.4,409.5 Q332.1,413.6 332.2,421.0" stroke="#22180f" stroke-width="5.0" fill="none" stroke-linecap="round"/>
<path d="M338.4,409.5 Q332.1,413.6 332.2,421.0" stroke="#c0a078" stroke-width="2.9" fill="none" stroke-linecap="round"/>
<path d="M346.3,412.9 Q345.1,419.5 339.9,423.8" stroke="#22180f" stroke-width="4.7" fill="none" stroke-linecap="round"/>
<path d="M346.3,412.9 Q345.1,419.5 339.9,423.8" stroke="#c0a078" stroke-width="2.6" fill="none" stroke-linecap="round"/>
<path d="M356.4,411.3 Q353.0,416.5 348.4,420.6" stroke="#22180f" stroke-width="4.3" fill="none" stroke-linecap="round"/>
<path d="M356.4,411.3 Q353.0,416.5 348.4,420.6" stroke="#c0a078" stroke-width="2.2" fill="none" stroke-linecap="round"/>
<path d="M359.5,408.9 Q354.2,414.7 355.1,422.6" stroke="#22180f" stroke-width="4.8" fill="none" stroke-linecap="round"/>
<path d="M359.5,408.9 Q354.2,414.7 355.1,422.6" stroke="#c0a078" stroke-width="2.7" fill="none" stroke-linecap="round"/>
<path d="M241.7,428.6 Q243.0,422.3 241.0,416.3" stroke="#22180f" stroke-width="5.0" fill="none" stroke-linecap="round"/>
<path d="M241.7,428.6 Q243.0,422.3 241.0,416.3" stroke="#d9c49f" stroke-width="2.9" fill="none" stroke-linecap="round"/>
<path d="M255.3,427.3 Q253.1,422.3 249.4,418.5" stroke="#22180f" stroke-width="5.4" fill="none" stroke-linecap="round"/>
<path d="M255.3,427.3 Q253.1,422.3 249.4,418.5" stroke="#d9c49f" stroke-width="3.3" fill="none" stroke-linecap="round"/>
<path d="M256.6,429.7 Q252.5,424.9 255.4,419.4" stroke="#22180f" stroke-width="5.2" fill="none" stroke-linecap="round"/>
<path d="M256.6,429.7 Q252.5,424.9 255.4,419.4" stroke="#d9c49f" stroke-width="3.1" fill="none" stroke-linecap="round"/>
<path d="M269.8,431.0 Q267.4,425.7 266.1,420.1" stroke="#22180f" stroke-width="5.8" fill="none" stroke-linecap="round"/>
<path d="M269.8,431.0 Q267.4,425.7 266.1,420.1" stroke="#f0e6cb" stroke-width="3.7" fill="none" stroke-linecap="round"/>
<path d="M281.6,426.9 Q278.6,420.2 271.3,419.5" stroke="#22180f" stroke-width="5.5" fill="none" stroke-linecap="round"/>
<path d="M281.6,426.9 Q278.6,420.2 271.3,419.5" stroke="#f0e6cb" stroke-width="3.4" fill="none" stroke-linecap="round"/>
<path d="M283.0,427.5 Q277.2,424.0 275.4,417.4" stroke="#22180f" stroke-width="5.5" fill="none" stroke-linecap="round"/>
<path d="M283.0,427.5 Q277.2,424.0 275.4,417.4" stroke="#f0e6cb" stroke-width="3.4" fill="none" stroke-linecap="round"/>
<path d="M296.1,428.3 Q288.6,427.5 285.0,420.8" stroke="#22180f" stroke-width="5.8" fill="none" stroke-linecap="round"/>
<path d="M296.1,428.3 Q288.6,427.5 285.0,420.8" stroke="#f0e6cb" stroke-width="3.7" fill="none" stroke-linecap="round"/>
<path d="M306.7,423.7 Q299.7,424.7 293.3,428.0" stroke="#22180f" stroke-width="6.2" fill="none" stroke-linecap="round"/>
<path d="M306.7,423.7 Q299.7,424.7 293.3,428.0" stroke="#f0e6cb" stroke-width="4.1" fill="none" stroke-linecap="round"/>
<path d="M310.3,425.4 Q304.1,428.0 298.5,424.2" stroke="#22180f" stroke-width="5.5" fill="none" stroke-linecap="round"/>
<path d="M310.3,425.4 Q304.1,428.0 298.5,424.2" stroke="#f0e6cb" stroke-width="3.4" fill="none" stroke-linecap="round"/>
<path d="M314.7,416.7 Q314.8,423.8 309.2,428.1" stroke="#22180f" stroke-width="6.1" fill="none" stroke-linecap="round"/>
<path d="M314.7,416.7 Q314.8,423.8 309.2,428.1" stroke="#f0e6cb" stroke-width="4.0" fill="none" stroke-linecap="round"/>
<path d="M329.1,421.9 Q321.7,422.3 317.7,428.6" stroke="#22180f" stroke-width="6.3" fill="none" stroke-linecap="round"/>
<path d="M329.1,421.9 Q321.7,422.3 317.7,428.6" stroke="#f0e6cb" stroke-width="4.2" fill="none" stroke-linecap="round"/>
<path d="M331.2,421.1 Q334.2,426.2 330.3,430.6" stroke="#22180f" stroke-width="5.5" fill="none" stroke-linecap="round"/>
<path d="M331.2,421.1 Q334.2,426.2 330.3,430.6" stroke="#f0e6cb" stroke-width="3.4" fill="none" stroke-linecap="round"/>
<path d="M341.4,418.5 Q339.9,425.9 333.1,429.2" stroke="#22180f" stroke-width="4.6" fill="none" stroke-linecap="round"/>
<path d="M341.4,418.5 Q339.9,425.9 333.1,429.2" stroke="#c0a078" stroke-width="2.5" fill="none" stroke-linecap="round"/>
<path d="M345.6,417.2 Q347.3,423.4 346.9,429.8" stroke="#22180f" stroke-width="4.8" fill="none" stroke-linecap="round"/>
<path d="M345.6,417.2 Q347.3,423.4 346.9,429.8" stroke="#c0a078" stroke-width="2.7" fill="none" stroke-linecap="round"/>
<path d="M357.7,422.9 Q352.7,424.2 350.3,428.8" stroke="#22180f" stroke-width="4.9" fill="none" stroke-linecap="round"/>
<path d="M357.7,422.9 Q352.7,424.2 350.3,428.8" stroke="#c0a078" stroke-width="2.8" fill="none" stroke-linecap="round"/>
<path d="M247.3,434.4 Q246.5,428.6 242.2,424.5" stroke="#22180f" stroke-width="5.4" fill="none" stroke-linecap="round"/>
<path d="M247.3,434.4 Q246.5,428.6 242.2,424.5" stroke="#d9c49f" stroke-width="3.3" fill="none" stroke-linecap="round"/>
<path d="M256.7,435.8 Q255.3,429.0 249.9,424.5" stroke="#22180f" stroke-width="5.2" fill="none" stroke-linecap="round"/>
<path d="M256.7,435.8 Q255.3,429.0 249.9,424.5" stroke="#d9c49f" stroke-width="3.1" fill="none" stroke-linecap="round"/>
<path d="M262.1,436.3 Q257.3,431.1 259.5,424.4" stroke="#22180f" stroke-width="5.0" fill="none" stroke-linecap="round"/>
<path d="M262.1,436.3 Q257.3,431.1 259.5,424.4" stroke="#d9c49f" stroke-width="2.9" fill="none" stroke-linecap="round"/>
<path d="M273.5,433.2 Q267.5,434.8 263.3,430.2" stroke="#22180f" stroke-width="5.1" fill="none" stroke-linecap="round"/>
<path d="M273.5,433.2 Q267.5,434.8 263.3,430.2" stroke="#d9c49f" stroke-width="3.0" fill="none" stroke-linecap="round"/>
<path d="M287.6,434.1 Q279.6,434.2 274.2,428.3" stroke="#22180f" stroke-width="5.0" fill="none" stroke-linecap="round"/>
<path d="M287.6,434.1 Q279.6,434.2 274.2,428.3" stroke="#d9c49f" stroke-width="2.9" fill="none" stroke-linecap="round"/>
<path d="M292.1,432.6 Q285.4,432.0 283.6,425.4" stroke="#22180f" stroke-width="4.9" fill="none" stroke-linecap="round"/>
<path d="M292.1,432.6 Q285.4,432.0 283.6,425.4" stroke="#d9c49f" stroke-width="2.8" fill="none" stroke-linecap="round"/>
<path d="M298.3,431.3 Q293.4,432.7 289.2,429.7" stroke="#22180f" stroke-width="5.5" fill="none" stroke-linecap="round"/>
<path d="M298.3,431.3 Q293.4,432.7 289.2,429.7" stroke="#d9c49f" stroke-width="3.4" fill="none" stroke-linecap="round"/>
<path d="M306.0,427.8 Q299.5,427.9 297.3,434.0" stroke="#22180f" stroke-width="5.2" fill="none" stroke-linecap="round"/>
<path d="M306.0,427.8 Q299.5,427.9 297.3,434.0" stroke="#d9c49f" stroke-width="3.1" fill="none" stroke-linecap="round"/>
<path d="M315.8,425.5 Q310.3,429.7 304.3,432.9" stroke="#22180f" stroke-width="5.2" fill="none" stroke-linecap="round"/>
<path d="M315.8,425.5 Q310.3,429.7 304.3,432.9" stroke="#d9c49f" stroke-width="3.1" fill="none" stroke-linecap="round"/>
<path d="M324.5,429.4 Q322.2,434.9 316.4,433.8" stroke="#22180f" stroke-width="5.3" fill="none" stroke-linecap="round"/>
<path d="M324.5,429.4 Q322.2,434.9 316.4,433.8" stroke="#d9c49f" stroke-width="3.2" fill="none" stroke-linecap="round"/>
<path d="M332.3,430.0 Q325.8,433.4 318.7,435.0" stroke="#22180f" stroke-width="5.5" fill="none" stroke-linecap="round"/>
<path d="M332.3,430.0 Q325.8,433.4 318.7,435.0" stroke="#d9c49f" stroke-width="3.4" fill="none" stroke-linecap="round"/>
<path d="M337.3,425.9 Q336.1,432.7 333.8,439.2" stroke="#22180f" stroke-width="5.1" fill="none" stroke-linecap="round"/>
<path d="M337.3,425.9 Q336.1,432.7 333.8,439.2" stroke="#c0a078" stroke-width="3.0" fill="none" stroke-linecap="round"/>
<path d="M347.1,425.0 Q345.2,430.0 342.8,434.7" stroke="#22180f" stroke-width="4.5" fill="none" stroke-linecap="round"/>
<path d="M347.1,425.0 Q345.2,430.0 342.8,434.7" stroke="#c0a078" stroke-width="2.4" fill="none" stroke-linecap="round"/>
<path d="M351.3,423.6 Q354.4,429.7 350.7,435.4" stroke="#22180f" stroke-width="4.6" fill="none" stroke-linecap="round"/>
<path d="M351.3,423.6 Q354.4,429.7 350.7,435.4" stroke="#c0a078" stroke-width="2.5" fill="none" stroke-linecap="round"/>
<path d="M360.8,428.0 Q357.8,432.3 360.0,437.1" stroke="#22180f" stroke-width="5.1" fill="none" stroke-linecap="round"/>
<path d="M360.8,428.0 Q357.8,432.3 360.0,437.1" stroke="#c0a078" stroke-width="3.0" fill="none" stroke-linecap="round"/>
<path d="M248.2,441.1 Q244.8,433.8 237.0,431.9" stroke="#22180f" stroke-width="4.7" fill="none" stroke-linecap="round"/>
<path d="M248.2,441.1 Q244.8,433.8 237.0,431.9" stroke="#d9c49f" stroke-width="2.6" fill="none" stroke-linecap="round"/>
<path d="M253.5,441.8 Q247.5,438.5 242.7,433.6" stroke="#22180f" stroke-width="5.3" fill="none" stroke-linecap="round"/>
<path d="M253.5,441.8 Q247.5,438.5 242.7,433.6" stroke="#d9c49f" stroke-width="3.2" fill="none" stroke-linecap="round"/>
<path d="M256.9,444.6 Q252.7,438.6 254.9,431.5" stroke="#22180f" stroke-width="4.8" fill="none" stroke-linecap="round"/>
<path d="M256.9,444.6 Q252.7,438.6 254.9,431.5" stroke="#d9c49f" stroke-width="2.7" fill="none" stroke-linecap="round"/>
<path d="M271.9,440.6 Q267.2,436.9 261.8,434.4" stroke="#22180f" stroke-width="5.5" fill="none" stroke-linecap="round"/>
<path d="M271.9,440.6 Q267.2,436.9 261.8,434.4" stroke="#d9c49f" stroke-width="3.4" fill="none" stroke-linecap="round"/>
<path d="M278.3,440.2 Q273.0,436.5 266.6,436.4" stroke="#22180f" stroke-width="4.8" fill="none" stroke-linecap="round"/>
<path d="M278.3,440.2 Q273.0,436.5 266.6,436.4" stroke="#d9c49f" stroke-width="2.7" fill="none" stroke-linecap="round"/>
<path d="M288.6,437.5 Q282.0,439.5 275.2,440.1" stroke="#22180f" stroke-width="5.1" fill="none" stroke-linecap="round"/>
<path d="M288.6,437.5 Q282.0,439.5 275.2,440.1" stroke="#d9c49f" stroke-width="3.0" fill="none" stroke-linecap="round"/>
<path d="M296.3,437.1 Q291.9,442.6 285.0,441.2" stroke="#22180f" stroke-width="5.0" fill="none" stroke-linecap="round"/>
<path d="M296.3,437.1 Q291.9,442.6 285.0,441.2" stroke="#d9c49f" stroke-width="2.9" fill="none" stroke-linecap="round"/>
<path d="M302.8,434.8 Q296.8,434.9 291.4,437.3" stroke="#22180f" stroke-width="5.4" fill="none" stroke-linecap="round"/>
<path d="M302.8,434.8 Q296.8,434.9 291.4,437.3" stroke="#d9c49f" stroke-width="3.3" fill="none" stroke-linecap="round"/>
<path d="M299.2,434.0 Q304.5,439.2 311.2,442.3" stroke="#22180f" stroke-width="3.4" fill="none" stroke-linecap="round"/>
<path d="M299.2,434.0 Q304.5,439.2 311.2,442.3" stroke="#bd9b72" stroke-width="2.3" fill="none" stroke-linecap="round"/>
<path d="M309.2,433.6 Q312.9,436.6 316.4,439.8" stroke="#22180f" stroke-width="3.2" fill="none" stroke-linecap="round"/>
<path d="M309.2,433.6 Q312.9,436.6 316.4,439.8" stroke="#bd9b72" stroke-width="2.1" fill="none" stroke-linecap="round"/>
<path d="M316.8,437.0 Q322.2,437.7 327.5,438.2" stroke="#22180f" stroke-width="3.3" fill="none" stroke-linecap="round"/>
<path d="M316.8,437.0 Q322.2,437.7 327.5,438.2" stroke="#bd9b72" stroke-width="2.2" fill="none" stroke-linecap="round"/>
<path d="M321.7,438.0 Q327.7,436.5 334.0,436.8" stroke="#22180f" stroke-width="3.0" fill="none" stroke-linecap="round"/>
<path d="M321.7,438.0 Q327.7,436.5 334.0,436.8" stroke="#bd9b72" stroke-width="1.9" fill="none" stroke-linecap="round"/>
<path d="M330.5,437.2 Q335.6,437.7 340.2,435.5" stroke="#22180f" stroke-width="2.9" fill="none" stroke-linecap="round"/>
<path d="M330.5,437.2 Q335.6,437.7 340.2,435.5" stroke="#bd9b72" stroke-width="1.8" fill="none" stroke-linecap="round"/>
<path d="M339.4,439.0 Q344.6,440.1 349.9,439.2" stroke="#22180f" stroke-width="3.1" fill="none" stroke-linecap="round"/>
<path d="M339.4,439.0 Q344.6,440.1 349.9,439.2" stroke="#bd9b72" stroke-width="2.0" fill="none" stroke-linecap="round"/>
<path d="M348.2,439.7 Q353.6,439.6 358.5,437.3" stroke="#22180f" stroke-width="3.0" fill="none" stroke-linecap="round"/>
<path d="M348.2,439.7 Q353.6,439.6 358.5,437.3" stroke="#bd9b72" stroke-width="1.9" fill="none" stroke-linecap="round"/>
<path d="M252.7,445.5 Q249.1,441.9 244.1,441.9" stroke="#22180f" stroke-width="5.1" fill="none" stroke-linecap="round"/>
<path d="M252.7,445.5 Q249.1,441.9 244.1,441.9" stroke="#d9c49f" stroke-width="3.0" fill="none" stroke-linecap="round"/>
<path d="M253.2,448.8 Q253.8,442.1 248.9,437.6" stroke="#22180f" stroke-width="4.7" fill="none" stroke-linecap="round"/>
<path d="M253.2,448.8 Q253.8,442.1 248.9,437.6" stroke="#d9c49f" stroke-width="2.6" fill="none" stroke-linecap="round"/>
<path d="M266.3,448.6 Q263.3,442.9 258.8,438.4" stroke="#22180f" stroke-width="4.9" fill="none" stroke-linecap="round"/>
<path d="M266.3,448.6 Q263.3,442.9 258.8,438.4" stroke="#d9c49f" stroke-width="2.8" fill="none" stroke-linecap="round"/>
<path d="M279.2,443.4 Q272.7,446.7 266.1,443.5" stroke="#22180f" stroke-width="4.8" fill="none" stroke-linecap="round"/>
<path d="M279.2,443.4 Q272.7,446.7 266.1,443.5" stroke="#d9c49f" stroke-width="2.7" fill="none" stroke-linecap="round"/>
<path d="M272.6,441.3 Q278.6,444.6 282.9,449.9" stroke="#22180f" stroke-width="3.2" fill="none" stroke-linecap="round"/>
<path d="M272.6,441.3 Q278.6,444.6 282.9,449.9" stroke="#bd9b72" stroke-width="2.1" fill="none" stroke-linecap="round"/>
<path d="M292.6,446.1 Q287.3,444.9 283.5,440.8" stroke="#22180f" stroke-width="4.7" fill="none" stroke-linecap="round"/>
<path d="M292.6,446.1 Q287.3,444.9 283.5,440.8" stroke="#d9c49f" stroke-width="2.6" fill="none" stroke-linecap="round"/>
<path d="M291.0,441.3 Q296.2,444.3 300.1,448.9" stroke="#22180f" stroke-width="2.9" fill="none" stroke-linecap="round"/>
<path d="M291.0,441.3 Q296.2,444.3 300.1,448.9" stroke="#bd9b72" stroke-width="1.8" fill="none" stroke-linecap="round"/>
<path d="M296.1,445.1 Q300.7,446.4 305.1,448.4" stroke="#22180f" stroke-width="2.8" fill="none" stroke-linecap="round"/>
<path d="M296.1,445.1 Q300.7,446.4 305.1,448.4" stroke="#bd9b72" stroke-width="1.7" fill="none" stroke-linecap="round"/>
<path d="M305.3,442.8 Q310.1,444.6 313.8,448.2" stroke="#22180f" stroke-width="3.0" fill="none" stroke-linecap="round"/>
<path d="M305.3,442.8 Q310.1,444.6 313.8,448.2" stroke="#bd9b72" stroke-width="1.9" fill="none" stroke-linecap="round"/>
<path d="M311.9,445.2 Q319.1,443.7 326.3,444.3" stroke="#22180f" stroke-width="2.9" fill="none" stroke-linecap="round"/>
<path d="M311.9,445.2 Q319.1,443.7 326.3,444.3" stroke="#bd9b72" stroke-width="1.8" fill="none" stroke-linecap="round"/>
<path d="M319.8,444.5 Q325.9,445.6 332.1,445.8" stroke="#22180f" stroke-width="3.0" fill="none" stroke-linecap="round"/>
<path d="M319.8,444.5 Q325.9,445.6 332.1,445.8" stroke="#bd9b72" stroke-width="1.9" fill="none" stroke-linecap="round"/>
<path d="M331.0,447.3 Q335.6,445.6 340.4,445.4" stroke="#22180f" stroke-width="3.0" fill="none" stroke-linecap="round"/>
<path d="M331.0,447.3 Q335.6,445.6 340.4,445.4" stroke="#bd9b72" stroke-width="1.9" fill="none" stroke-linecap="round"/>
<path d="M337.9,444.3 Q344.4,445.4 350.8,443.8" stroke="#22180f" stroke-width="2.8" fill="none" stroke-linecap="round"/>
<path d="M337.9,444.3 Q344.4,445.4 350.8,443.8" stroke="#bd9b72" stroke-width="1.7" fill="none" stroke-linecap="round"/>
<path d="M345.5,446.2 Q351.9,445.3 357.7,442.5" stroke="#22180f" stroke-width="3.1" fill="none" stroke-linecap="round"/>
<path d="M345.5,446.2 Q351.9,445.3 357.7,442.5" stroke="#bd9b72" stroke-width="2.0" fill="none" stroke-linecap="round"/>
<path d="M349.0,447.9 Q355.4,447.6 361.6,445.9" stroke="#22180f" stroke-width="2.9" fill="none" stroke-linecap="round"/>
<path d="M349.0,447.9 Q355.4,447.6 361.6,445.9" stroke="#bd9b72" stroke-width="1.8" fill="none" stroke-linecap="round"/>
<path d="M237.0,449.9 Q241.3,451.9 245.9,452.7" stroke="#22180f" stroke-width="3.0" fill="none" stroke-linecap="round"/>
<path d="M237.0,449.9 Q241.3,451.9 245.9,452.7" stroke="#bd9b72" stroke-width="1.9" fill="none" stroke-linecap="round"/>
<path d="M247.6,448.3 Q251.7,451.5 256.9,452.2" stroke="#22180f" stroke-width="3.3" fill="none" stroke-linecap="round"/>
<path d="M247.6,448.3 Q251.7,451.5 256.9,452.2" stroke="#bd9b72" stroke-width="2.2" fill="none" stroke-linecap="round"/>
<path d="M254.9,450.3 Q260.6,451.2 265.9,453.7" stroke="#22180f" stroke-width="2.7" fill="none" stroke-linecap="round"/>
<path d="M254.9,450.3 Q260.6,451.2 265.9,453.7" stroke="#bd9b72" stroke-width="1.6" fill="none" stroke-linecap="round"/>
<path d="M260.6,449.4 Q266.0,452.4 272.1,453.0" stroke="#22180f" stroke-width="3.4" fill="none" stroke-linecap="round"/>
<path d="M260.6,449.4 Q266.0,452.4 272.1,453.0" stroke="#bd9b72" stroke-width="2.3" fill="none" stroke-linecap="round"/>
<path d="M269.9,447.5 Q273.7,450.5 277.7,453.3" stroke="#22180f" stroke-width="2.8" fill="none" stroke-linecap="round"/>
<path d="M269.9,447.5 Q273.7,450.5 277.7,453.3" stroke="#bd9b72" stroke-width="1.7" fill="none" stroke-linecap="round"/>
<path d="M280.2,449.8 Q284.9,452.3 289.7,454.6" stroke="#22180f" stroke-width="3.4" fill="none" stroke-linecap="round"/>
<path d="M280.2,449.8 Q284.9,452.3 289.7,454.6" stroke="#bd9b72" stroke-width="2.3" fill="none" stroke-linecap="round"/>
<path d="M283.2,447.3 Q289.7,450.5 295.9,454.4" stroke="#22180f" stroke-width="3.1" fill="none" stroke-linecap="round"/>
<path d="M283.2,447.3 Q289.7,450.5 295.9,454.4" stroke="#bd9b72" stroke-width="2.0" fill="none" stroke-linecap="round"/>
<path d="M295.7,447.6 Q301.2,450.4 305.3,455.0" stroke="#22180f" stroke-width="2.7" fill="none" stroke-linecap="round"/>
<path d="M295.7,447.6 Q301.2,450.4 305.3,455.0" stroke="#bd9b72" stroke-width="1.6" fill="none" stroke-linecap="round"/>
<path d="M302.2,448.6 Q308.5,452.1 315.1,455.2" stroke="#22180f" stroke-width="3.1" fill="none" stroke-linecap="round"/>
<path d="M302.2,448.6 Q308.5,452.1 315.1,455.2" stroke="#bd9b72" stroke-width="2.0" fill="none" stroke-linecap="round"/>
<path d="M307.2,450.8 Q312.4,453.7 318.2,455.2" stroke="#22180f" stroke-width="3.1" fill="none" stroke-linecap="round"/>
<path d="M307.2,450.8 Q312.4,453.7 318.2,455.2" stroke="#bd9b72" stroke-width="2.0" fill="none" stroke-linecap="round"/>
<path d="M313.1,450.8 Q319.8,449.6 326.5,450.8" stroke="#22180f" stroke-width="3.4" fill="none" stroke-linecap="round"/>
<path d="M313.1,450.8 Q319.8,449.6 326.5,450.8" stroke="#bd9b72" stroke-width="2.3" fill="none" stroke-linecap="round"/>
<path d="M322.2,452.4 Q327.9,451.0 333.4,448.9" stroke="#22180f" stroke-width="3.3" fill="none" stroke-linecap="round"/>
<path d="M322.2,452.4 Q327.9,451.0 333.4,448.9" stroke="#bd9b72" stroke-width="2.2" fill="none" stroke-linecap="round"/>
<path d="M330.0,454.6 Q335.8,452.1 341.9,451.0" stroke="#22180f" stroke-width="2.9" fill="none" stroke-linecap="round"/>
<path d="M330.0,454.6 Q335.8,452.1 341.9,451.0" stroke="#bd9b72" stroke-width="1.8" fill="none" stroke-linecap="round"/>
<path d="M336.8,454.8 Q343.2,452.4 349.8,450.9" stroke="#22180f" stroke-width="3.1" fill="none" stroke-linecap="round"/>
<path d="M336.8,454.8 Q343.2,452.4 349.8,450.9" stroke="#bd9b72" stroke-width="2.0" fill="none" stroke-linecap="round"/>
<path d="M347.6,451.3 Q354.9,451.3 362.1,452.6" stroke="#22180f" stroke-width="2.9" fill="none" stroke-linecap="round"/>
<path d="M347.6,451.3 Q354.9,451.3 362.1,452.6" stroke="#bd9b72" stroke-width="1.8" fill="none" stroke-linecap="round"/>
<path d="M243.1,455.0 Q247.6,458.8 253.4,460.1" stroke="#22180f" stroke-width="2.8" fill="none" stroke-linecap="round"/>
<path d="M243.1,455.0 Q247.6,458.8 253.4,460.1" stroke="#bd9b72" stroke-width="1.7" fill="none" stroke-linecap="round"/>
<path d="M251.3,457.4 Q254.2,461.1 258.6,462.6" stroke="#22180f" stroke-width="2.9" fill="none" stroke-linecap="round"/>
<path d="M251.3,457.4 Q254.2,461.1 258.6,462.6" stroke="#bd9b72" stroke-width="1.8" fill="none" stroke-linecap="round"/>
<path d="M257.8,456.5 Q263.9,460.1 270.4,462.8" stroke="#22180f" stroke-width="2.9" fill="none" stroke-linecap="round"/>
<path d="M257.8,456.5 Q263.9,460.1 270.4,462.8" stroke="#bd9b72" stroke-width="1.8" fill="none" stroke-linecap="round"/>
<path d="M266.2,455.4 Q270.9,459.8 276.6,462.6" stroke="#22180f" stroke-width="2.8" fill="none" stroke-linecap="round"/>
<path d="M266.2,455.4 Q270.9,459.8 276.6,462.6" stroke="#bd9b72" stroke-width="1.7" fill="none" stroke-linecap="round"/>
<path d="M272.5,452.9 Q277.4,457.8 283.4,461.1" stroke="#22180f" stroke-width="2.7" fill="none" stroke-linecap="round"/>
<path d="M272.5,452.9 Q277.4,457.8 283.4,461.1" stroke="#bd9b72" stroke-width="1.6" fill="none" stroke-linecap="round"/>
<path d="M281.3,457.4 Q285.8,460.3 291.1,460.5" stroke="#22180f" stroke-width="3.3" fill="none" stroke-linecap="round"/>
<path d="M281.3,457.4 Q285.8,460.3 291.1,460.5" stroke="#bd9b72" stroke-width="2.2" fill="none" stroke-linecap="round"/>
<path d="M287.7,457.2 Q292.2,460.7 297.2,463.4" stroke="#22180f" stroke-width="2.9" fill="none" stroke-linecap="round"/>
<path d="M287.7,457.2 Q292.2,460.7 297.2,463.4" stroke="#bd9b72" stroke-width="1.8" fill="none" stroke-linecap="round"/>
<path d="M295.4,453.6 Q300.2,457.7 305.9,460.5" stroke="#22180f" stroke-width="3.1" fill="none" stroke-linecap="round"/>
<path d="M295.4,453.6 Q300.2,457.7 305.9,460.5" stroke="#bd9b72" stroke-width="2.0" fill="none" stroke-linecap="round"/>
<path d="M305.0,455.0 Q309.4,458.5 314.2,461.5" stroke="#22180f" stroke-width="3.2" fill="none" stroke-linecap="round"/>
<path d="M305.0,455.0 Q309.4,458.5 314.2,461.5" stroke="#bd9b72" stroke-width="2.1" fill="none" stroke-linecap="round"/>
<path d="M312.6,458.3 Q317.4,460.7 322.7,461.2" stroke="#22180f" stroke-width="2.8" fill="none" stroke-linecap="round"/>
<path d="M312.6,458.3 Q317.4,460.7 322.7,461.2" stroke="#bd9b72" stroke-width="1.7" fill="none" stroke-linecap="round"/>
<path d="M318.5,456.9 Q323.3,456.9 328.2,457.2" stroke="#22180f" stroke-width="3.0" fill="none" stroke-linecap="round"/>
<path d="M318.5,456.9 Q323.3,456.9 328.2,457.2" stroke="#bd9b72" stroke-width="1.9" fill="none" stroke-linecap="round"/>
<path d="M331.3,459.3 Q335.9,459.8 340.4,458.5" stroke="#22180f" stroke-width="3.2" fill="none" stroke-linecap="round"/>
<path d="M331.3,459.3 Q335.9,459.8 340.4,458.5" stroke="#bd9b72" stroke-width="2.1" fill="none" stroke-linecap="round"/>
<path d="M336.1,460.6 Q342.8,461.4 349.4,460.1" stroke="#22180f" stroke-width="3.1" fill="none" stroke-linecap="round"/>
<path d="M336.1,460.6 Q342.8,461.4 349.4,460.1" stroke="#bd9b72" stroke-width="2.0" fill="none" stroke-linecap="round"/>
<path d="M342.1,459.8 Q347.3,459.2 352.2,461.3" stroke="#22180f" stroke-width="2.9" fill="none" stroke-linecap="round"/>
<path d="M342.1,459.8 Q347.3,459.2 352.2,461.3" stroke="#bd9b72" stroke-width="1.8" fill="none" stroke-linecap="round"/>
<path d="M350.7,460.0 Q355.2,457.1 360.5,456.9" stroke="#22180f" stroke-width="3.0" fill="none" stroke-linecap="round"/>
<path d="M350.7,460.0 Q355.2,457.1 360.5,456.9" stroke="#bd9b72" stroke-width="1.9" fill="none" stroke-linecap="round"/>
</g>
<path d="M249.5,402.0 C249.3,404.8 249.8,407.7 251.0,411.0 C252.2,414.3 255.4,419.3 257.0,421.7 C258.6,424.1 259.3,424.4 260.9,425.7 C262.4,426.9 264.4,428.2 266.3,429.4 C268.2,430.6 270.0,431.8 272.3,432.8 C274.6,433.9 277.6,434.6 280.1,435.5 C282.6,436.4 284.7,437.7 287.2,438.5 C289.8,439.3 293.4,439.4 295.5,440.2 C297.6,441.0 298.2,442.5 299.6,443.1 C301.0,443.7 302.3,442.9 304.0,444.0 C305.7,445.1 307.9,447.7 309.5,449.5 C311.1,451.3 312.2,453.2 313.5,455.0 C314.8,456.8 315.9,459.6 317.5,460.0 C319.1,460.4 322.2,459.2 322.8,457.5 C323.4,455.8 321.4,451.8 321.0,450.0 C320.6,448.2 319.1,448.0 320.5,446.5 C321.9,445.0 326.9,442.7 329.4,441.2 C331.9,439.7 333.8,439.0 335.6,437.6 C337.4,436.2 338.7,434.4 340.0,433.0 C341.3,431.6 342.4,430.5 343.3,429.2 C344.2,427.8 344.7,426.7 345.3,425.0 C345.9,423.3 346.7,421.2 347.1,419.2 C347.4,417.3 347.5,415.3 347.6,413.5 C347.7,411.7 348.1,409.9 347.8,408.2 C347.4,406.5 346.3,405.1 345.6,403.5 C344.9,401.9 344.6,400.0 343.7,398.4 C342.9,396.8 341.6,395.4 340.5,394.0 C339.4,392.6 338.6,391.0 337.3,389.7 C336.1,388.5 334.5,387.7 333.0,386.5 C331.5,385.3 330.1,383.3 328.2,382.3 C326.4,381.2 324.3,380.9 322.0,380.2 C319.7,379.5 316.9,378.4 314.2,378.0 C311.6,377.6 309.0,377.8 306.0,377.6 C303.0,377.4 299.2,376.7 295.9,376.8 C292.7,376.9 289.3,377.8 286.3,378.3 C283.3,378.8 280.7,378.9 278.1,379.7 C275.5,380.4 274.1,381.1 270.9,382.6 C267.7,384.1 262.1,386.8 259.0,388.8 C255.8,390.8 253.6,392.3 252.0,394.5 C250.4,396.7 249.7,399.2 249.5,402.0 Z" fill="none" stroke="#140d08" stroke-width="2.6"/>
<circle cx="298.2" cy="409.6" r="21.2" fill="url(#rg)" stroke="#c8202a" stroke-width="0.6"/><text x="285.4" y="414.0" font-size="12.5" fill="#561616" stroke="#561616" stroke-width="0.15" textLength="24" lengthAdjust="spacingAndGlyphs">JNK1</text>
<path d="M354.2,443.4 L354.2,451.7" stroke="#383838" stroke-width="0.9"/><path d="M351.9,443.9 L354.2,441.09999999999997 L356.5,443.9 Z" fill="#383838"/><text x="360.8" y="450.4" font-size="12" fill="#383838" stroke="#383838" stroke-width="0.22" text-anchor="start" textLength="54.8" lengthAdjust="spacingAndGlyphs" >Food intake</text>
</svg></body></html>
